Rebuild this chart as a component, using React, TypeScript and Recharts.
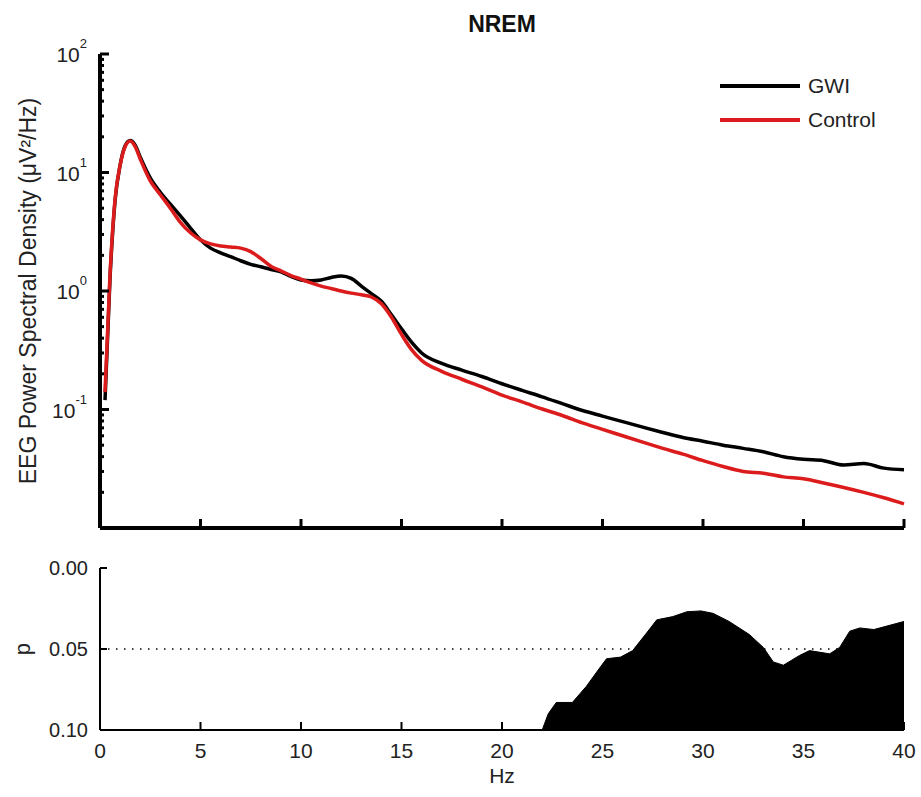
import React from 'react';
import {
    ComposedChart,
    AreaChart,
    Line,
    Area,
    XAxis,
    YAxis,
    Legend,
    ReferenceLine,
} from 'recharts';

// spectra (Hz, µV²/Hz)
const freqs = [
    0.25, 0.5, 0.75, 1, 1.25, 1.5, 1.75, 2, 2.5, 3, 3.5, 4, 4.5, 5, 5.5, 6, 6.5, 7, 7.5, 8,
    8.5, 9, 9.5, 10, 10.5, 11, 11.5, 12, 12.5, 13, 13.5, 14, 14.5, 15, 15.5, 16, 17, 18, 19,
    20, 21, 22, 23, 24, 25, 26, 27, 28, 29, 30, 31, 32, 33, 34, 35, 36, 37, 38, 39, 40,
];
const gwiPower = [
    0.12, 1.3, 5.8, 11.5, 16.8, 18.6, 17, 13.5, 9, 6.8, 5.4, 4.3, 3.4, 2.7, 2.3, 2.1, 1.95, 1.8,
    1.68, 1.6, 1.52, 1.45, 1.33, 1.24, 1.22, 1.24, 1.3, 1.34, 1.28, 1.1, 0.95, 0.82, 0.63, 0.48,
    0.37, 0.3, 0.245, 0.215, 0.19, 0.165, 0.145, 0.128, 0.112, 0.098, 0.088, 0.079, 0.071, 0.064,
    0.058, 0.054, 0.05, 0.047, 0.044, 0.04, 0.038, 0.037, 0.034, 0.035, 0.032, 0.031,
];
const controlPower = [
    0.14, 1.4, 6.0, 11.5, 16.5, 18.4, 16.5, 13, 8.5, 6.5, 5.0, 3.8, 3.1, 2.7, 2.5, 2.4, 2.35, 2.3,
    2.15, 1.88, 1.62, 1.48, 1.35, 1.26, 1.17, 1.1, 1.05, 1.0, 0.96, 0.93, 0.89, 0.78, 0.6, 0.43,
    0.32, 0.26, 0.21, 0.18, 0.155, 0.132, 0.116, 0.101, 0.089, 0.077, 0.068, 0.06, 0.053, 0.047,
    0.042, 0.037, 0.033, 0.03, 0.029, 0.027, 0.026, 0.024, 0.022, 0.02, 0.018, 0.016,
];

// p-values (clipped at 0.10)
const pFreqs = [
    0, 22.0, 22.3, 22.7, 23.5, 24.2, 24.9, 25.2, 25.9, 26.5, 27.2, 27.7, 28.5, 29.2, 29.9, 30.5,
    31.3, 32.3, 33.0, 33.5, 34.0, 34.8, 35.3, 36.3, 36.8, 37.3, 37.8, 38.5, 39.1, 40,
];
const pValues = [
    0.1, 0.1, 0.09, 0.083, 0.083, 0.073, 0.061, 0.056, 0.055, 0.051, 0.04, 0.032, 0.03, 0.027,
    0.0265, 0.028, 0.033, 0.041, 0.049, 0.058, 0.06, 0.054, 0.051, 0.053, 0.049, 0.039, 0.037,
    0.038, 0.036, 0.033,
];

const seriesNames = ['GWI', 'Control'];
const hzTicks = [0, 5, 10, 15, 20, 25, 30, 35, 40];
const logTicks = [
    0.02, 0.03, 0.04, 0.05, 0.06, 0.07, 0.08, 0.09, 0.1, 0.2, 0.3, 0.4, 0.5, 0.6, 0.7, 0.8, 0.9,
    1, 2, 3, 4, 5, 6, 7, 8, 9, 10, 20, 30, 40, 50, 60, 70, 80, 90, 100,
];
const pTicks = [0, 0.05, 0.1];

const FONT = '"Liberation Sans", Arial, Helvetica, sans-serif';
const RED = '#dc1c1c';

const spectra = freqs.map((f, i) => ({ freq: f, gwi: gwiPower[i], control: controlPower[i] }));
const pData = pFreqs.map((f, i) => ({ freq: f, p: pValues[i] }));

function LogTick(props: any) {
    const { x, y, payload } = props;
    const lg = Math.log10(payload.value);
    const exp = Math.round(lg);
    const major = Math.abs(lg - exp) < 1e-6;
    const axisX = x + 13;
    return (
        <g>
            <line x1={axisX} x2={axisX + (major ? 9 : 4)} y1={y} y2={y} stroke="#000" strokeWidth={3} />
            {major && (
                <text x={x} y={y + 8} textAnchor="end" fontFamily={FONT} fontSize={21} fill="#222">
                    10
                    <tspan dy={-14} fontSize={13}>
                        {exp}
                    </tspan>
                </text>
            )}
        </g>
    );
}

function TopHzTick(props: any) {
    const { x, y } = props;
    return <line x1={x} x2={x} y1={y} y2={y - 9} stroke="#000" strokeWidth={3} />;
}

function PTick(props: any) {
    const { x, y, payload } = props;
    const axisX = x + 12;
    return (
        <g>
            <line x1={axisX} x2={axisX + 7} y1={y} y2={y} stroke="#000" strokeWidth={2} />
            <text x={x} y={y + 7} textAnchor="end" fontFamily={FONT} fontSize={20} fill="#222">
                {payload.value.toFixed(2)}
            </text>
        </g>
    );
}

function BottomHzTick(props: any) {
    const { x, y, payload } = props;
    return (
        <g>
            <line x1={x} x2={x} y1={y} y2={y - 8} stroke="#000" strokeWidth={2} />
            <text x={x} y={y + 28} textAnchor="middle" fontFamily={FONT} fontSize={21} fill="#222">
                {payload.value}
            </text>
        </g>
    );
}

function renderLegend(props: any) {
    const items = [...(props.payload || [])].sort(
        (a: any, b: any) => seriesNames.indexOf(a.value) - seriesNames.indexOf(b.value)
    );
    return (
        <div style={{ fontFamily: FONT, fontSize: 21, color: '#222' }}>
            {items.map((item: any) => (
                <div key={item.value} style={{ display: 'flex', alignItems: 'center', height: 34 }}>
                    <div style={{ width: 80, height: 4, background: item.color, marginRight: 8 }} />
                    <span>{item.value}</span>
                </div>
            ))}
        </div>
    );
}

export default function App() {
    return (
        <div style={{ position: 'absolute', left: 0, top: 0, width: 921, height: 797, background: '#fff' }}>
            <div
                style={{
                    position: 'absolute',
                    left: 100,
                    top: 11,
                    width: 804,
                    textAlign: 'center',
                    fontFamily: FONT,
                    fontWeight: 'bold',
                    fontSize: 23,
                    color: '#111',
                }}
            >
                NREM
            </div>
            <div style={{ position: 'absolute', left: 0, top: 0 }}>
                <ComposedChart
                    width={921}
                    height={540}
                    data={spectra}
                    margin={{ top: 54, right: 17, bottom: 2, left: 40 }}
                >
                    <XAxis
                        dataKey="freq"
                        type="number"
                        domain={[0, 40]}
                        ticks={hzTicks}
                        interval={0}
                        height={10}
                        tickSize={0}
                        tickMargin={0}
                        tick={<TopHzTick />}
                        axisLine={{ stroke: '#000', strokeWidth: 4 }}
                    />
                    <YAxis
                        scale="log"
                        domain={[0.01, 100]}
                        allowDataOverflow
                        ticks={logTicks}
                        interval={0}
                        width={60}
                        tickSize={0}
                        tickMargin={13}
                        tick={<LogTick />}
                        axisLine={{ stroke: '#000', strokeWidth: 4 }}
                        label={{
                            value: 'EEG Power Spectral Density (μV²/Hz)',
                            angle: -90,
                            position: 'insideLeft',
                            offset: -12,
                            style: { textAnchor: 'middle', fontFamily: FONT, fontSize: 23, fill: '#222' },
                        }}
                    />
                    <Legend
                        layout="horizontal"
                        verticalAlign="middle"
                        align="center"
                        content={renderLegend}
                        wrapperStyle={{ left: 720, top: 69, width: 190 }}
                    />
                    <Line
                        type="monotone"
                        dataKey="gwi"
                        name="GWI"
                        stroke="#000"
                        strokeWidth={3.5}
                        dot={false}
                        isAnimationActive={false}
                    />
                    <Line
                        type="monotone"
                        dataKey="control"
                        name="Control"
                        stroke={RED}
                        strokeWidth={3.5}
                        dot={false}
                        isAnimationActive={false}
                    />
                </ComposedChart>
            </div>
            <div style={{ position: 'absolute', left: 0, top: 540 }}>
                <AreaChart
                    width={921}
                    height={257}
                    data={pData}
                    margin={{ top: 28, right: 17, bottom: 27, left: 40 }}
                >
                    <XAxis
                        dataKey="freq"
                        type="number"
                        domain={[0, 40]}
                        ticks={hzTicks}
                        interval={0}
                        height={40}
                        tickSize={0}
                        tickMargin={0}
                        tick={<BottomHzTick />}
                        axisLine={{ stroke: '#000', strokeWidth: 2 }}
                        label={{
                            value: 'Hz',
                            position: 'insideBottom',
                            offset: -13,
                            style: { fontFamily: FONT, fontSize: 21, fill: '#222' },
                        }}
                    />
                    <YAxis
                        reversed
                        domain={[0, 0.1]}
                        ticks={pTicks}
                        interval={0}
                        width={60}
                        tickSize={0}
                        tickMargin={12}
                        tick={<PTick />}
                        axisLine={{ stroke: '#000', strokeWidth: 2 }}
                        label={{
                            value: 'p',
                            angle: -90,
                            position: 'insideLeft',
                            offset: -18,
                            style: { textAnchor: 'middle', fontFamily: FONT, fontSize: 22, fill: '#222' },
                        }}
                    />
                    <ReferenceLine y={0.05} stroke="#000" strokeWidth={1.5} strokeDasharray="1.5 6.5" />
                    <Area
                        type="linear"
                        dataKey="p"
                        baseValue={0.1}
                        stroke="#000"
                        strokeWidth={1}
                        fill="#000"
                        fillOpacity={1}
                        isAnimationActive={false}
                    />
                </AreaChart>
            </div>
        </div>
    );
}
